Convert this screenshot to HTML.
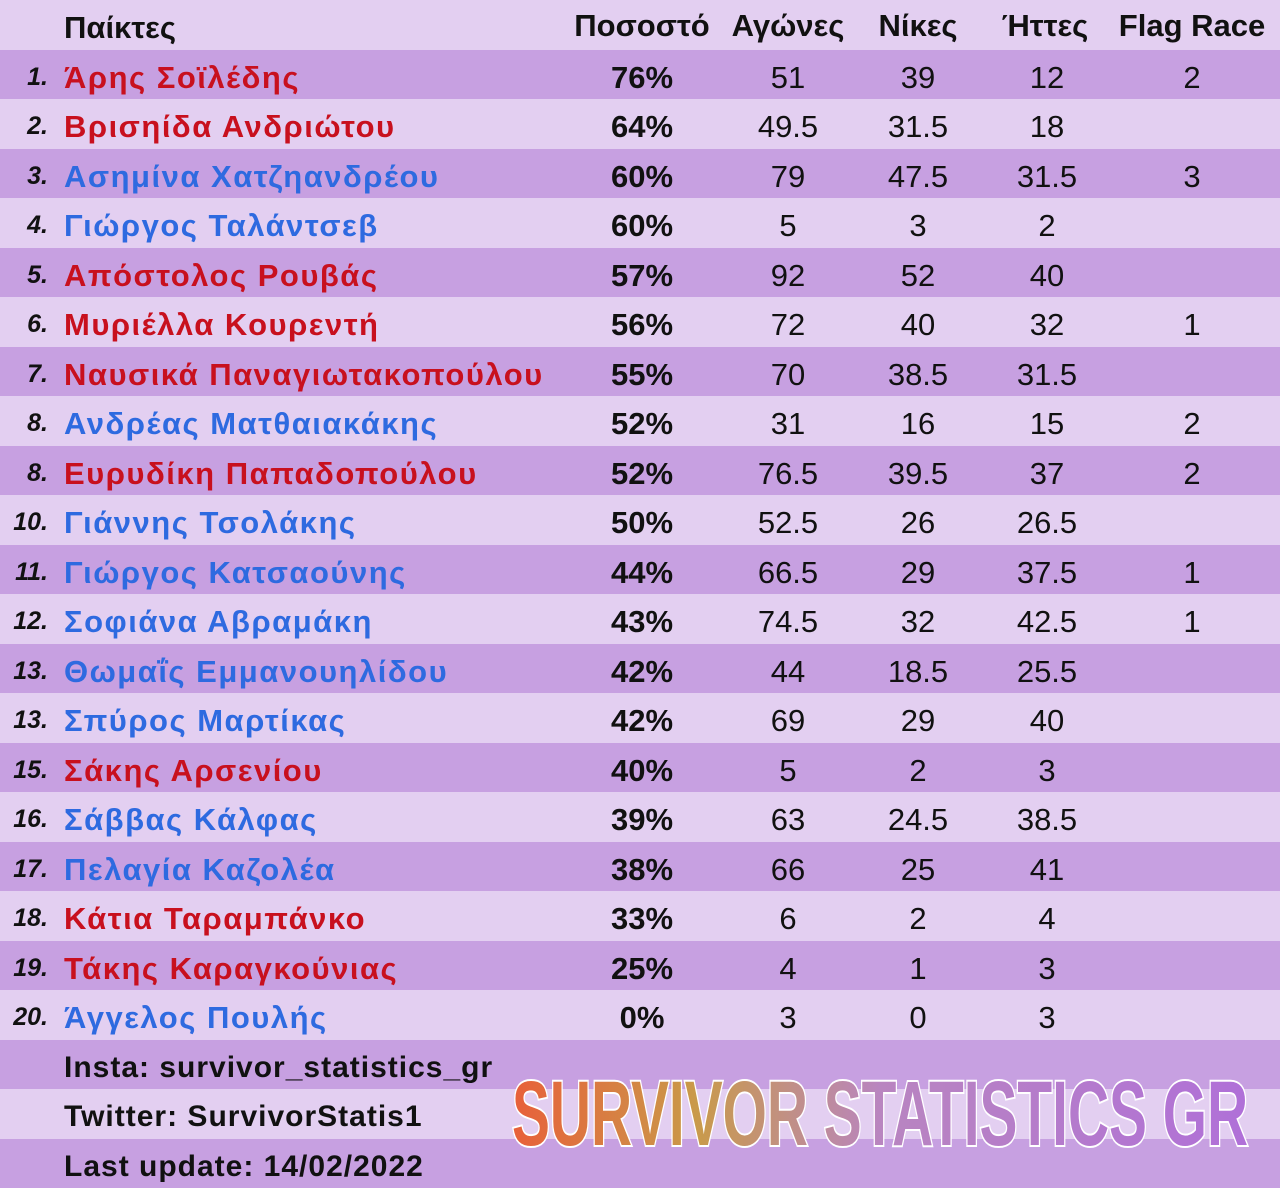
<!DOCTYPE html>
<html><head><meta charset="utf-8"><style>
body{margin:0;width:1280px;height:1188px;overflow:hidden;font-family:"Liberation Sans","DejaVu Sans",sans-serif;}
.r{position:absolute;left:0;width:1280px;height:49.5px;}
.l{background:#e3cff1}.d{background:#c7a0e1}
.t{position:absolute;top:3px;line-height:49.5px;font-size:31px;white-space:nowrap;}
.n{font-style:italic;font-weight:bold;font-size:25px;width:48px;text-align:right;left:0;color:#111}
.nm{left:64px;font-weight:bold;letter-spacing:1.5px}
.R{color:#c8101e}.B{color:#2e6ae0}
.c{transform:translateX(-50%);color:#111}
.p{font-weight:bold}
.h{font-weight:bold;color:#111}
</style></head><body>
<div id="w"></div>
<script>
const rows=[
["1.","Άρης Σοϊλέδης","R","76%","51","39","12","2"],
["2.","Βρισηίδα Ανδριώτου","R","64%","49.5","31.5","18",""],
["3.","Ασημίνα Χατζηανδρέου","B","60%","79","47.5","31.5","3"],
["4.","Γιώργος Ταλάντσεβ","B","60%","5","3","2",""],
["5.","Απόστολος Ρουβάς","R","57%","92","52","40",""],
["6.","Μυριέλλα Κουρεντή","R","56%","72","40","32","1"],
["7.","Ναυσικά Παναγιωτακοπούλου","R","55%","70","38.5","31.5",""],
["8.","Ανδρέας Ματθαιακάκης","B","52%","31","16","15","2"],
["8.","Ευρυδίκη Παπαδοπούλου","R","52%","76.5","39.5","37","2"],
["10.","Γιάννης Τσολάκης","B","50%","52.5","26","26.5",""],
["11.","Γιώργος Κατσαούνης","B","44%","66.5","29","37.5","1"],
["12.","Σοφιάνα Αβραμάκη","B","43%","74.5","32","42.5","1"],
["13.","Θωμαΐς Εμμανουηλίδου","B","42%","44","18.5","25.5",""],
["13.","Σπύρος Μαρτίκας","B","42%","69","29","40",""],
["15.","Σάκης Αρσενίου","R","40%","5","2","3",""],
["16.","Σάββας Κάλφας","B","39%","63","24.5","38.5",""],
["17.","Πελαγία Καζολέα","B","38%","66","25","41",""],
["18.","Κάτια Ταραμπάνκο","R","33%","6","2","4",""],
["19.","Τάκης Καραγκούνιας","R","25%","4","1","3",""],
["20.","Άγγελος Πουλής","B","0%","3","0","3",""]];
const cx=[642,788,918,1047,1192];
let h='<div class="r l" style="top:0"><div class="t h" style="left:64px">Παίκτες</div>';
["Ποσοστό","Αγώνες","Νίκες","Ήττες","Flag Race"].forEach((s,i)=>{let x=[642,788,918,1045,1192][i];h+=`<div class="t h c" style="left:${x}px;top:1px">${s}</div>`});
h+='</div>';
rows.forEach((r,i)=>{let top=(i+1)*49.5;h+=`<div class="r ${i%2==0?'d':'l'}" style="top:${top}px"><div class="t n">${r[0]}</div><div class="t nm ${r[2]}">${r[1]}</div>`;
for(let j=0;j<5;j++)h+=`<div class="t c ${j==0?'p':''}" style="left:${cx[j]}px">${r[3+j]}</div>`;h+='</div>'});
["Insta: survivor_statistics_gr","Twitter: SurvivorStatis1","Last update: 14/02/2022"].forEach((s,i)=>{h+=`<div class="r ${i==1?'l':'d'}" style="top:${(21+i)*49.5}px"><div class="t h" style="left:64px;font-size:30px;letter-spacing:1px">${s}</div></div>`});
document.getElementById('w').innerHTML=h;
</script>
<svg style="position:absolute;left:0;top:0" width="1280" height="1188">
<defs><linearGradient id="g2" x1="512" x2="1248" y1="0" y2="0" gradientUnits="userSpaceOnUse">
<stop offset="0" stop-color="#e8603a"/><stop offset="0.25" stop-color="#c99a4a"/><stop offset="0.5" stop-color="#b985c0"/><stop offset="1" stop-color="#b070d8"/></linearGradient></defs>
<text x="512" y="1145" textLength="736" lengthAdjust="spacingAndGlyphs" font-family="Liberation Sans Narrow,Liberation Sans,sans-serif" font-weight="bold" font-size="92" fill="url(#g2)" stroke="#fff" stroke-width="4" paint-order="stroke">SURVIVOR STATISTICS GR</text>
</svg>
</body></html>
